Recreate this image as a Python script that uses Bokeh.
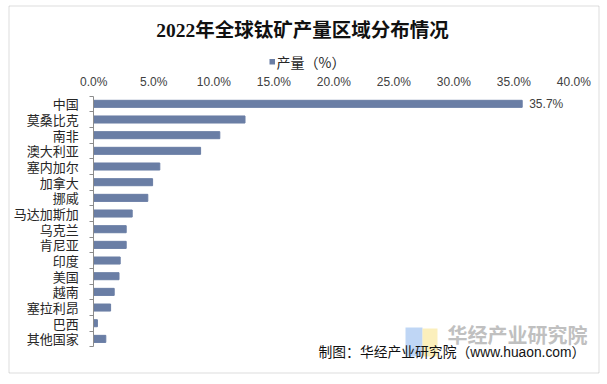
from bokeh.plotting import figure
from bokeh.models import Range1d, FixedTicker, Label, BoxAnnotation
from bokeh.core.properties import value
from bokeh.embed import file_html
from bokeh.resources import INLINE

categories = ["中国", "莫桑比克", "南非", "澳大利亚", "塞内加尔", "加拿大", "挪威", "马达加斯加",
              "乌克兰", "肯尼亚", "印度", "美国", "越南", "塞拉利昂", "巴西", "其他国家"]
shares = [35.7, 12.6, 10.5, 8.9, 5.5, 4.9, 4.5, 3.2, 2.7, 2.7, 2.2, 2.1, 1.7, 1.4, 0.3, 1.0]
x_ticks = [0, 5, 10, 15, 20, 25, 30, 35, 40]
x_tick_labels = ["0.0%", "5.0%", "10.0%", "15.0%", "20.0%", "25.0%", "30.0%", "35.0%", "40.0%"]
series_name = "产量（%）"
title_text = "2022年全球钛矿产量区域分布情况"
source_text = "制图：华经产业研究院（www.huaon.com）"
watermark_text = "华经产业研究院"

# canvas and layout constants (pixels)
W, H = 600, 376
X0 = 93.3          # pixel of 0 %
PX_PER_PCT = 12.0
Y0 = 95.5          # top of first category band
BAND = 15.67       # pixels per category band

CJK = "'Noto Sans CJK SC'"
SANS = "'Liberation Sans', 'Noto Sans CJK SC'"
BAR_COLOR = "#6A7EA5"
GREY = "#8c8c8c"

p = figure(width=W, height=H, output_backend="svg", toolbar_location=None,
           x_range=Range1d(-X0 / PX_PER_PCT, (W - X0) / PX_PER_PCT),
           y_range=Range1d((H - Y0) / BAND, -Y0 / BAND),
           x_axis_location="above",
           min_border_left=0, min_border_right=0, min_border_top=0, min_border_bottom=0)
p.title.visible = False
p.outline_line_color = None
p.xgrid.visible = False
p.ygrid.visible = False
p.background_fill_color = "white"
p.border_fill_color = "white"

n = len(categories)
centers = [i + 0.5 for i in range(n)]
bars = p.hbar(y=centers, left=0, right=shares, height=0.45, color=BAR_COLOR)

# top value axis
xa = p.xaxis[0]
xa.fixed_location = 0
xa.ticker = FixedTicker(ticks=x_ticks)
xa.major_label_overrides = {t: l for t, l in zip(x_ticks, x_tick_labels)}
xa.axis_line_color = None
xa.major_tick_line_color = None
xa.minor_tick_line_color = None
xa.major_tick_out = 0
xa.major_tick_in = 0
xa.major_label_standoff = 7
xa.major_label_text_font = SANS
xa.major_label_text_font_size = "12px"
xa.major_label_text_color = "#404040"

# left category axis
ya = p.yaxis[0]
ya.fixed_location = 0
ya.bounds = (0, n)
ya.ticker = FixedTicker(ticks=centers, minor_ticks=list(range(n + 1)))
ya.major_label_overrides = {c: name for c, name in zip(centers, categories)}
ya.axis_line_color = GREY
ya.major_tick_line_color = None
ya.major_tick_out = 0
ya.major_tick_in = 0
ya.minor_tick_line_color = GREY
ya.minor_tick_out = 4
ya.minor_tick_in = 0
ya.major_label_standoff = 11
ya.major_label_text_font = CJK
ya.major_label_text_font_size = "13px"
ya.major_label_text_color = "#262626"

# value label on the top bar
p.text(x=[shares[0]], y=[centers[0]], text=[f"{shares[0]:.1f}%"], x_offset=7,
       text_baseline="middle", text_align="left", text_font=value(SANS),
       text_font_size="12px", text_color="#404040")


def sy(cy):
    return H - cy


def box(l, r, t, b, **kw):
    return BoxAnnotation(left=l, right=r, top=sy(t), bottom=sy(b),
                         left_units="screen", right_units="screen",
                         top_units="screen", bottom_units="screen", **kw)


# title
p.add_layout(Label(x=302, y=sy(30), x_units="screen", y_units="screen", text=title_text,
                   text_align="center", text_baseline="middle",
                   text_font="'Liberation Serif', 'Noto Sans CJK SC'", text_font_style="bold",
                   text_font_size="19.5px", text_color="#111111"))

# legend
p.add_layout(box(269, 274.5, 58.5, 64, fill_color=BAR_COLOR, fill_alpha=1, line_color=None))
p.add_layout(Label(x=276, y=sy(61.5), x_units="screen", y_units="screen", text=series_name,
                   text_align="left", text_baseline="middle", text_font=CJK,
                   text_font_size="14px", text_color="#262626"))

# watermark logo and text
p.add_layout(box(405, 422, 327, 356, fill_color="#a9c8f2", fill_alpha=0.75, line_color=None))
p.add_layout(box(422, 437, 328, 356, fill_color="#f9e9a6", fill_alpha=0.75, line_color=None))
p.add_layout(Label(x=447, y=sy(334), x_units="screen", y_units="screen", text=watermark_text,
                   text_align="left", text_baseline="middle", text_font=CJK,
                   text_font_style="bold", text_font_size="20px", text_color="#c0c0c0"))

# source text
p.add_layout(Label(x=318, y=sy(352), x_units="screen", y_units="screen", text=source_text,
                   text_align="left", text_baseline="middle", text_font=SANS,
                   text_font_size="13.8px", text_color="#111111"))

# outer border
p.add_layout(box(8.5, 598.5, 5.5, 372.5, fill_alpha=0, line_color=GREY, line_width=1))

open("out.html", "w").write(file_html(p, INLINE))
